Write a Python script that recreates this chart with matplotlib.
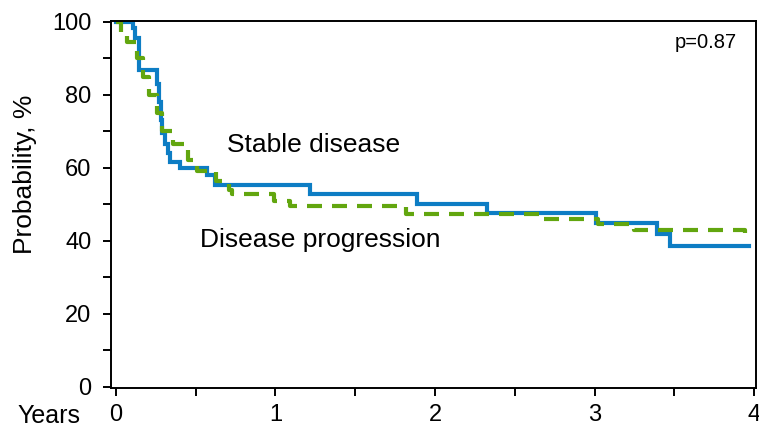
import numpy as np
import matplotlib.pyplot as plt
from matplotlib.ticker import MultipleLocator

# Kaplan-Meier style step curves (years, % probability after each step)
stable_t = [0, 0.107, 0.12, 0.145, 0.257, 0.27, 0.28, 0.29, 0.307, 0.326, 0.34,
            0.40, 0.571, 0.62, 1.216, 1.887, 2.326, 3.009, 3.39, 3.47, 3.97]
stable_p = [100, 98.3, 95.5, 86.7, 83, 78, 73, 69.5, 66.5, 64, 61.5,
            59.8, 58, 55.3, 52.7, 50.1, 47.6, 44.9, 41.8, 38.5, 38.5]

prog_t = [0, 0.03, 0.07, 0.13, 0.17, 0.21, 0.26, 0.29, 0.36, 0.45, 0.51,
          0.63, 0.71, 0.73, 0.99, 1.09, 1.82, 2.66, 3.02, 3.25, 3.94, 3.97]
prog_p = [100, 97, 94.5, 90, 85, 80, 75, 70, 66.5, 62, 59,
          56.5, 54, 52.8, 51, 49.6, 47.3, 46, 44.7, 43, 41.8, 41.8]

x_ticks = [0, 1, 2, 3, 4]
y_ticks = [0, 20, 40, 60, 80, 100]

blue = '#0d7dc4'
green = '#62a60f'
plt.rcParams['font.family'] = ['Liberation Sans', 'DejaVu Sans']

fig = plt.figure(figsize=(7.59, 4.33), dpi=100)
ax = fig.add_axes([111 / 759, 1 - 388.3 / 433, 645 / 759, 367.6 / 433])

ax.step(stable_t, stable_p, where='post', color=blue, lw=3.0, solid_joinstyle='miter')
ax.step(prog_t, prog_p, where='post', color=green, lw=3.0,
        linestyle=(0, (3.6, 2.4)), dash_capstyle='butt')

ax.set_xlim(-0.031, 4.012)
ax.set_ylim(-0.45, 100.3)
ax.set_xticks(x_ticks)
ax.set_yticks(y_ticks)
ax.xaxis.set_minor_locator(MultipleLocator(0.5))
ax.yaxis.set_minor_locator(MultipleLocator(10))
ax.tick_params(which='both', direction='out', length=6, width=1.4, color='black')
ax.tick_params(axis='both', labelsize=17)
ax.tick_params(axis='y', pad=8)
ax.tick_params(axis='x', pad=5)
for s in ax.spines.values():
    s.set_linewidth(1.4)

ax.text(0.694, 64.4, 'Stable disease', fontsize=19, va='baseline')
ax.text(0.527, 38.2, 'Disease progression', fontsize=19, va='baseline')
ax.text(3.893, 92.9, 'p=0.87', fontsize=14.5, ha='right', va='baseline')

fig.text(25 / 759, 1 - 174 / 433, 'Probability, %', rotation=90, fontsize=19,
         ha='center', va='center')
fig.text(80 / 759, 1 - 404 / 433, 'Years', fontsize=18, ha='right', va='top')

fig.savefig('out.png', dpi=100)
